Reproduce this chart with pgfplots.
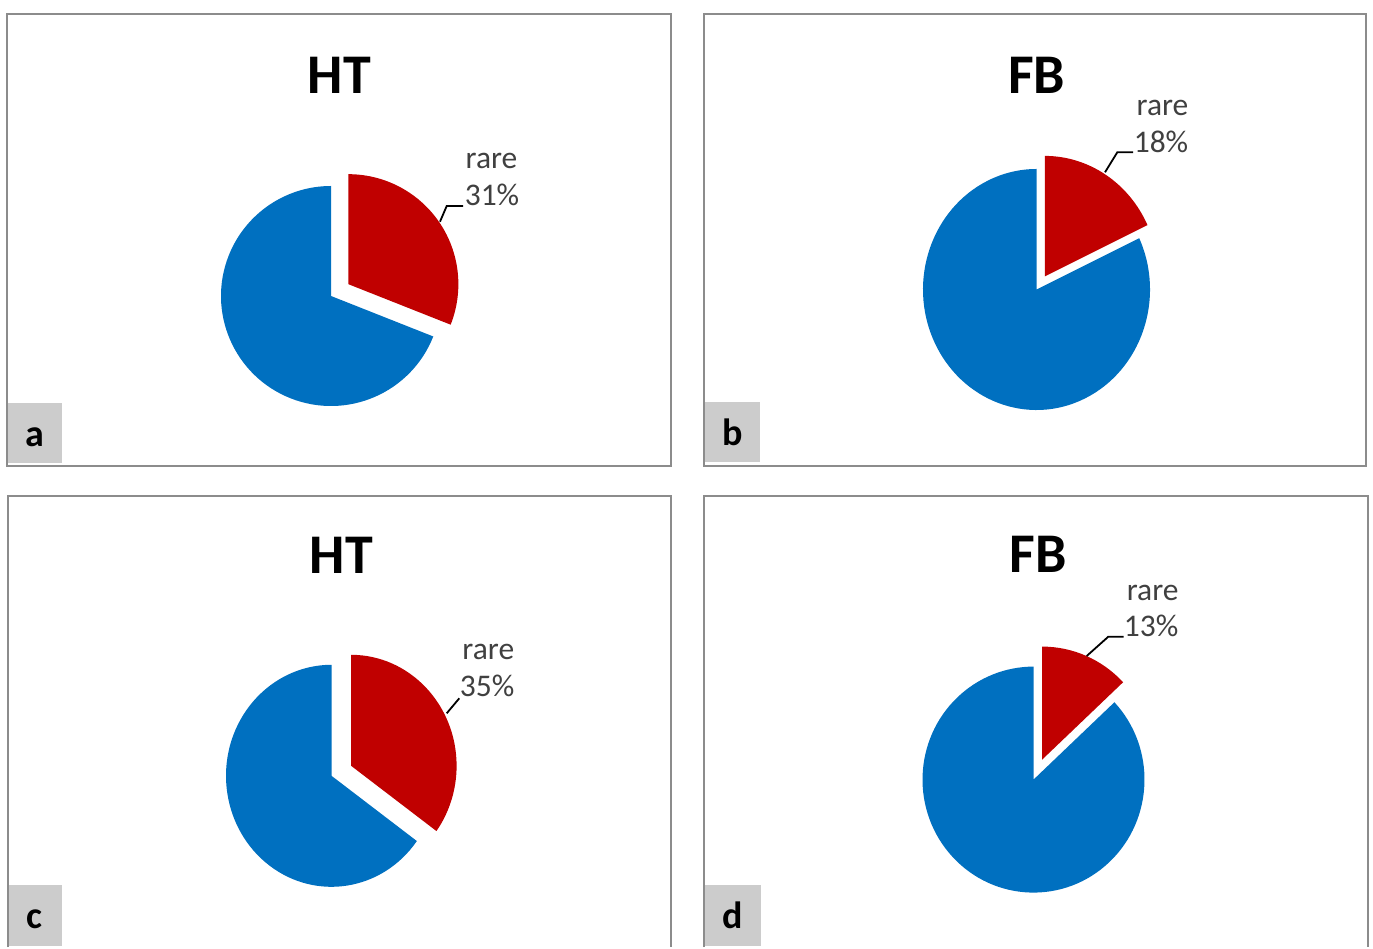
\documentclass[border=0pt]{standalone}
\usepackage{fontspec}
\setmainfont{Carlito}
\usepackage{pgfplots}
\pgfplotsset{compat=1.18}
\definecolor{pieblue}{HTML}{0070C0}
\definecolor{piered}{HTML}{C00000}
\definecolor{framegray}{HTML}{8C8C8C}
\definecolor{boxgray}{HTML}{CCCCCC}
\definecolor{labtext}{HTML}{404040}
% cx cy rx ry rare% explode
\newcommand{\pie}[6]{%
  \fill[pieblue] (axis cs:#1,#2) -- ++({90-3.6*#5}:#3pt and #4pt)
     arc[start angle={90-3.6*#5}, end angle=-270, x radius=#3pt, y radius=#4pt] -- cycle;
  \fill[piered] (axis cs:#1,#2) ++({90-1.8*#5}:#6pt) -- ++(0,#4pt)
     arc[start angle=90, end angle={90-3.6*#5}, x radius=#3pt, y radius=#4pt] -- cycle;
}
\newcommand{\titlefont}{\fontsize{56}{68}\selectfont\bfseries}
\newcommand{\labfont}{\fontsize{31.5}{38}\selectfont}
\newcommand{\letfont}{\fontsize{38}{46}\selectfont\bfseries}
\begin{document}
\begin{tikzpicture}
\begin{axis}[x=1pt, y=1pt, xmin=0, xmax=1373, ymin=0, ymax=947,
  hide axis, clip=false, axis line style={draw=none}]
\fill[white] (axis cs:0,0) rectangle (axis cs:1373,947);
% frames
\draw[framegray, line width=2pt] (axis cs:7,933) rectangle (axis cs:671,481);
\draw[framegray, line width=2pt] (axis cs:704,933) rectangle (axis cs:1366,481);
\draw[framegray, line width=2pt] (axis cs:8,0) -- (axis cs:8,451) -- (axis cs:671,451) -- (axis cs:671,0);
\draw[framegray, line width=2pt] (axis cs:704,0) -- (axis cs:704,451) -- (axis cs:1368,451) -- (axis cs:1368,0);
% panel letters
\fill[boxgray] (axis cs:7.5,483.5) rectangle (axis cs:62,543.5);
\fill[boxgray] (axis cs:704.5,484.5) rectangle (axis cs:760,545);
\fill[boxgray] (axis cs:8.5,1) rectangle (axis cs:61.5,62);
\fill[boxgray] (axis cs:704.5,1) rectangle (axis cs:760.5,62);
\node[anchor=base, inner sep=0pt] at (axis cs:34.7,500.5) {\letfont a};
\node[anchor=base, inner sep=0pt] at (axis cs:732.5,501.5) {\letfont b};
\node[anchor=base, inner sep=0pt] at (axis cs:34.8,18.5) {\letfont c};
\node[anchor=base, inner sep=0pt] at (axis cs:732.5,18.5) {\letfont d};
% titles
\node[anchor=base, inner sep=0pt] at (axis cs:339.2,853.7) {\titlefont HT};
\node[anchor=base, inner sep=0pt] at (axis cs:1036.7,853.7) {\titlefont FB};
\node[anchor=base, inner sep=0pt] at (axis cs:341.5,373) {\titlefont HT};
\node[anchor=base, inner sep=0pt] at (axis cs:1038,374.5) {\titlefont FB};
% pies: blue centre, radii, rare share, explode distance
\pie{331}{651}{110}{110}{31}{21}
\pie{1036.5}{657.5}{113.5}{120.5}{18}{15.5}
\pie{331.5}{171.2}{105.5}{111}{35}{22}
\pie{1033.5}{167.4}{111}{113}{13}{21.8}
% data labels
\node[anchor=base, inner sep=0pt, text=labtext] at (axis cs:491.5,778.7) {\labfont rare};
\node[anchor=base, inner sep=0pt, text=labtext] at (axis cs:492,741) {\labfont 31\%};
\draw[black, line width=1.8pt] (axis cs:440,725.3) -- (axis cs:446.7,741) -- (axis cs:463,741);
\node[anchor=base, inner sep=0pt, text=labtext] at (axis cs:1162.5,831.3) {\labfont rare};
\node[anchor=base, inner sep=0pt, text=labtext] at (axis cs:1161,794.3) {\labfont 18\%};
\draw[black, line width=1.8pt] (axis cs:1105,774.7) -- (axis cs:1117.3,794.7) -- (axis cs:1133,794.7);
\node[anchor=base, inner sep=0pt, text=labtext] at (axis cs:488.3,287) {\labfont rare};
\node[anchor=base, inner sep=0pt, text=labtext] at (axis cs:487.2,250.3) {\labfont 35\%};
\draw[black, line width=1.8pt] (axis cs:446.7,233.7) -- (axis cs:459.3,248.7);
\node[anchor=base, inner sep=0pt, text=labtext] at (axis cs:1152.7,346.3) {\labfont rare};
\node[anchor=base, inner sep=0pt, text=labtext] at (axis cs:1151.2,310.3) {\labfont 13\%};
\draw[black, line width=1.8pt] (axis cs:1086.7,291) -- (axis cs:1108.3,310.3) -- (axis cs:1123.5,310.3);
\end{axis}
\end{tikzpicture}
\end{document}
